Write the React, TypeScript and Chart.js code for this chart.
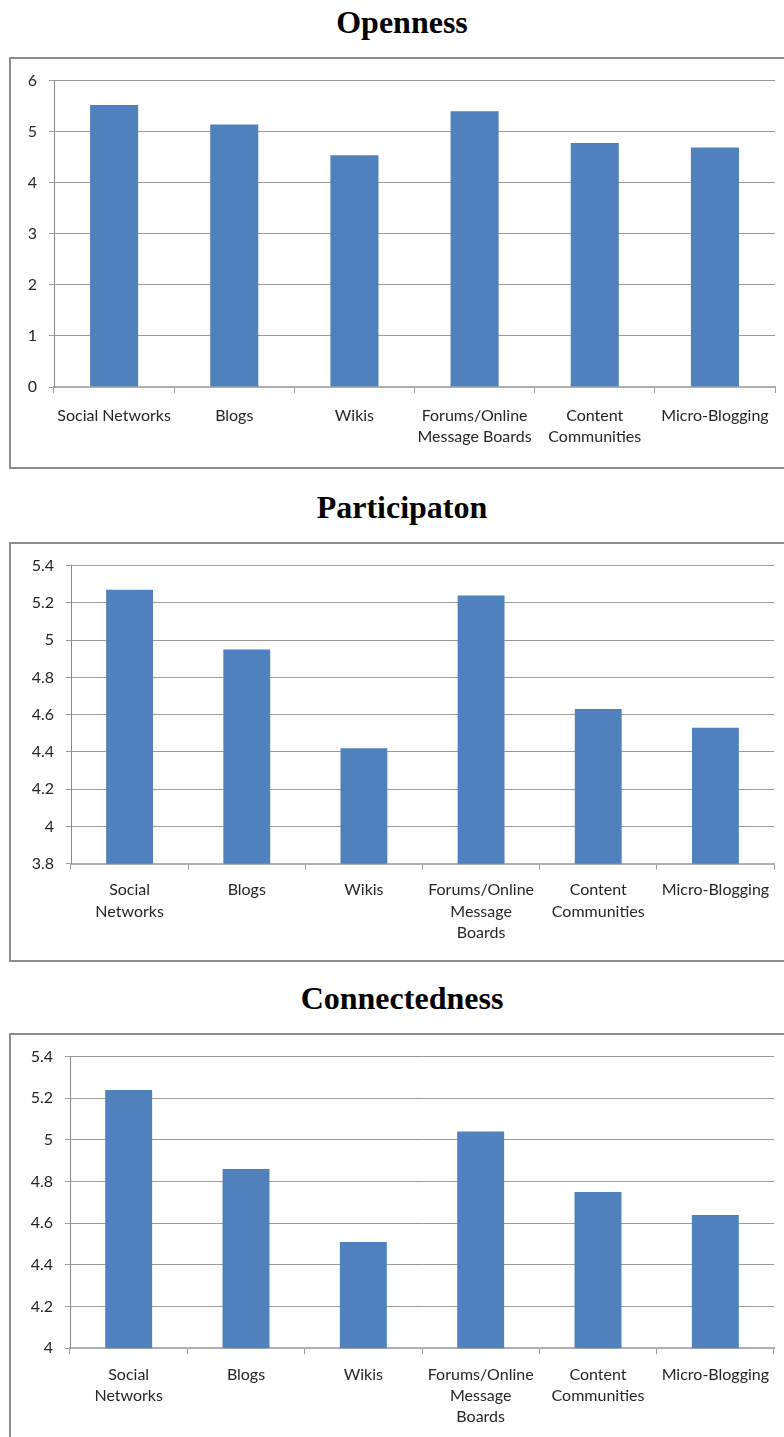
import React, { useEffect, useRef } from "react";
import { Chart, registerables } from "chart.js";

Chart.register(...registerables);

// ---- Data ----
const categoriesOpenness: (string | string[])[] = [
  "Social Networks",
  "Blogs",
  "Wikis",
  ["Forums/Online", "Message Boards"],
  ["Content", "Communities"],
  "Micro-Blogging",
];
const categoriesWrapped: (string | string[])[] = [
  ["Social", "Networks"],
  "Blogs",
  "Wikis",
  ["Forums/Online", "Message", "Boards"],
  ["Content", "Communities"],
  "Micro-Blogging",
];
const opennessValues = [5.52, 5.14, 4.54, 5.4, 4.78, 4.69];
const participationValues = [5.27, 4.95, 4.42, 5.24, 4.63, 4.53];
const connectednessValues = [5.24, 4.86, 4.51, 5.04, 4.75, 4.64];

const opennessAxis = { min: 0, max: 6, step: 1 };
const participationAxis = { min: 3.8, max: 5.4, step: 0.2 };
const connectednessAxis = { min: 4, max: 5.4, step: 0.2 };

const titles = ["Openness", "Participaton", "Connectedness"];

const BAR = "#4F81BD";
const GRID = "#9a9a9a";
const LABEL_FONT = "Lato, 'Open Sans', sans-serif";

type PanelProps = {
  labels: (string | string[])[];
  values: number[];
  axis: { min: number; max: number; step: number };
  canvasTop: number;
  canvasHeight: number;
  padTop: number;
  padRight: number;
  yWidth: number;
  xHeight: number;
  xPad: number;
};

function Panel(p: PanelProps) {
  const ref = useRef<HTMLCanvasElement | null>(null);
  useEffect(() => {
    if (!ref.current) return;
    const chart = new Chart(ref.current, {
      type: "bar",
      data: {
        labels: p.labels as any,
        datasets: [
          {
            data: p.values,
            backgroundColor: BAR,
            borderWidth: 0,
            barPercentage: 0.4,
            categoryPercentage: 1,
          },
        ],
      },
      options: {
        responsive: false,
        animation: false,
        devicePixelRatio: 1,
        layout: { padding: { top: p.padTop, right: p.padRight, left: 0, bottom: 0 } },
        plugins: { legend: { display: false }, title: { display: false }, tooltip: { enabled: false } },
        scales: {
          x: {
            type: "category",
            offset: true,
            grid: {
              display: true,
              drawOnChartArea: false,
              drawTicks: true,
              tickLength: 6,
              color: GRID,
              offset: true,
            },
            border: { display: true, color: "#b0b0b0", width: 2 },
            ticks: {
              autoSkip: false,
              maxRotation: 0,
              minRotation: 0,
              padding: p.xPad,
              color: "#262626",
              font: { family: LABEL_FONT, size: 16, lineHeight: 1.32 },
            },
            afterFit: (s: any) => {
              s.height = p.xHeight;
            },
          },
          y: {
            min: p.axis.min,
            max: p.axis.max,
            grid: { color: GRID, lineWidth: 1, drawTicks: true, tickLength: 5 },
            border: { display: true, color: "#8a8a8a", width: 1 },
            ticks: {
              stepSize: p.axis.step,
              padding: 12,
              color: "#262626",
              font: { family: LABEL_FONT, size: 16 },
              callback: (v: any) => String(Number(Number(v).toFixed(1))),
            },
            afterFit: (s: any) => {
              s.width = p.yWidth;
            },
          },
        },
      } as any,
    });
    return () => chart.destroy();
  }, []);
  return (
    <canvas
      ref={ref}
      width={784}
      height={p.canvasHeight}
      style={{ position: "absolute", left: 0, top: p.canvasTop, width: 784, height: p.canvasHeight }}
    />
  );
}

const titleStyle = (top: number): React.CSSProperties => ({
  position: "absolute",
  left: 20,
  width: 764,
  top,
  textAlign: "center",
  fontFamily: "'Liberation Serif', 'Times New Roman', serif",
  fontWeight: "bold",
  fontSize: 32,
  lineHeight: "32px",
  color: "#000",
});

const boxStyle = (top: number, height: number): React.CSSProperties => ({
  position: "absolute",
  left: 9,
  top,
  width: 800,
  height,
  boxSizing: "border-box",
  border: "2px solid #8c8c8c",
});

export default function App() {
  return (
    <div
      style={{
        position: "absolute",
        left: 0,
        top: 0,
        width: 784,
        height: 1437,
        overflow: "hidden",
        background: "#fff",
      }}
    >
      <div style={titleStyle(5.5)}>{titles[0]}</div>
      <div style={boxStyle(57, 412)} />
      <Panel
        labels={categoriesOpenness}
        values={opennessValues}
        axis={opennessAxis}
        canvasTop={59}
        canvasHeight={409}
        padTop={19.5}
        padRight={9}
        yWidth={54}
        xHeight={81}
        xPad={12.5}
      />

      <div style={titleStyle(490.5)}>{titles[1]}</div>
      <div style={boxStyle(542, 420)} />
      <Panel
        labels={categoriesWrapped}
        values={participationValues}
        axis={participationAxis}
        canvasTop={544}
        canvasHeight={416}
        padTop={18.3}
        padRight={10}
        yWidth={71}
        xHeight={96.3}
        xPad={10}
      />

      <div style={titleStyle(982)}>{titles[2]}</div>
      <div style={boxStyle(1033, 500)} />
      <Panel
        labels={categoriesWrapped}
        values={connectednessValues}
        axis={connectednessAxis}
        canvasTop={1035}
        canvasHeight={402}
        padTop={18.7}
        padRight={10}
        yWidth={70}
        xHeight={88.7}
        xPad={10}
      />
    </div>
  );
}
